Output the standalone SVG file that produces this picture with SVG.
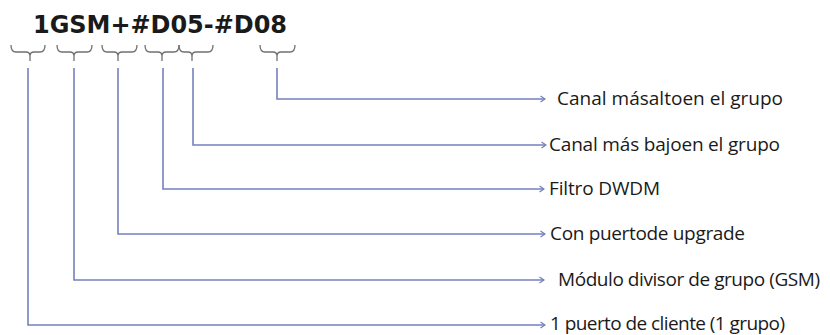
<svg xmlns="http://www.w3.org/2000/svg" width="830" height="335" viewBox="0 0 830 335">
  <style>
    .code { font-family: "DejaVu Sans", Verdana, sans-serif; font-weight: bold; font-size: 24px; fill: #1a1a1a; }
    .brace { fill: none; stroke: #707070; stroke-width: 1.3; }
    .lead { fill: none; stroke: #7480bd; stroke-width: 1.6; }
    .label { font-family: "Open Sans", "Noto Sans", sans-serif; font-size: 19px; fill: #1a1a1a; }
  </style>
  <defs>
    <marker id="chev" viewBox="0 0 6 8" refX="5.5" refY="4" markerWidth="6" markerHeight="8" markerUnits="userSpaceOnUse" orient="auto">
      <path d="M1,1 L5.5,4 L1,7" fill="none" stroke="#7480bd" stroke-width="1.3"/>
    </marker>
  </defs>

  <g id="code">
    <text class="code" x="33" y="33" textLength="254">1GSM+#D05-#D08</text>
  </g>

  <!-- braces grouping each part of the code -->
  <g id="braces">
    <path class="brace" d="M11 45 Q11 52 16 52 H26 Q30 52 30 56 Q30 52 34 52 H40 Q45 52 45 45 M30 56 V61"/>
    <path class="brace" d="M57 45 Q57 52 62 52 H70 Q74 52 74 56 Q74 52 78 52 H87 Q92 52 92 45 M74 56 V61"/>
    <path class="brace" d="M102 45 Q102 52 107 52 H114 Q118 52 118 56 Q118 52 122 52 H132 Q137 52 137 45 M118 56 V61"/>
    <path class="brace" d="M145 45 Q145 52 150 52 H158 Q162 52 162 56 Q162 52 166 52 H174 Q179 52 179 45 M162 56 V61"/>
    <path class="brace" d="M179 45 Q179 52 184 52 H188 Q192 52 192 56 Q192 52 196 52 H208 Q213 52 213 45 M192 56 V61"/>
    <path class="brace" d="M260 45 Q260 52 265 52 H273 Q277 52 277 56 Q277 52 281 52 H290 Q295 52 295 45 M277 56 V61"/>
  </g>

  <g id="connectors">
    <polyline class="lead" points="277,68 277,99 545,99" marker-end="url(#chev)"/>
    <polyline class="lead" points="193,68 193,145 546,145" marker-end="url(#chev)"/>
    <polyline class="lead" points="163,68 163,189 544,189" marker-end="url(#chev)"/>
    <polyline class="lead" points="118,68 118,234 545,234" marker-end="url(#chev)"/>
    <polyline class="lead" points="74,68 74,280 544,280" marker-end="url(#chev)"/>
    <polyline class="lead" points="28,68 28,325 545,325" marker-end="url(#chev)"/>
  </g>

  <g id="label-alto">
    <text class="label" x="557" y="105" textLength="226">Canal másaltoen el grupo</text>
  </g>
  <g id="label-bajo">
    <text class="label" x="549" y="151" textLength="231">Canal más bajoen el grupo</text>
  </g>
  <g id="label-filtro">
    <text class="label" x="549" y="195" textLength="111">Filtro DWDM</text>
  </g>
  <g id="label-upgrade">
    <text class="label" x="550" y="240" textLength="195">Con puertode upgrade</text>
  </g>
  <g id="label-gsm">
    <text class="label" x="558" y="286" textLength="262">Módulo divisor de grupo (GSM)</text>
  </g>
  <g id="label-cliente">
    <text class="label" x="550" y="330" textLength="235">1 puerto de cliente (1 grupo)</text>
  </g>
</svg>
